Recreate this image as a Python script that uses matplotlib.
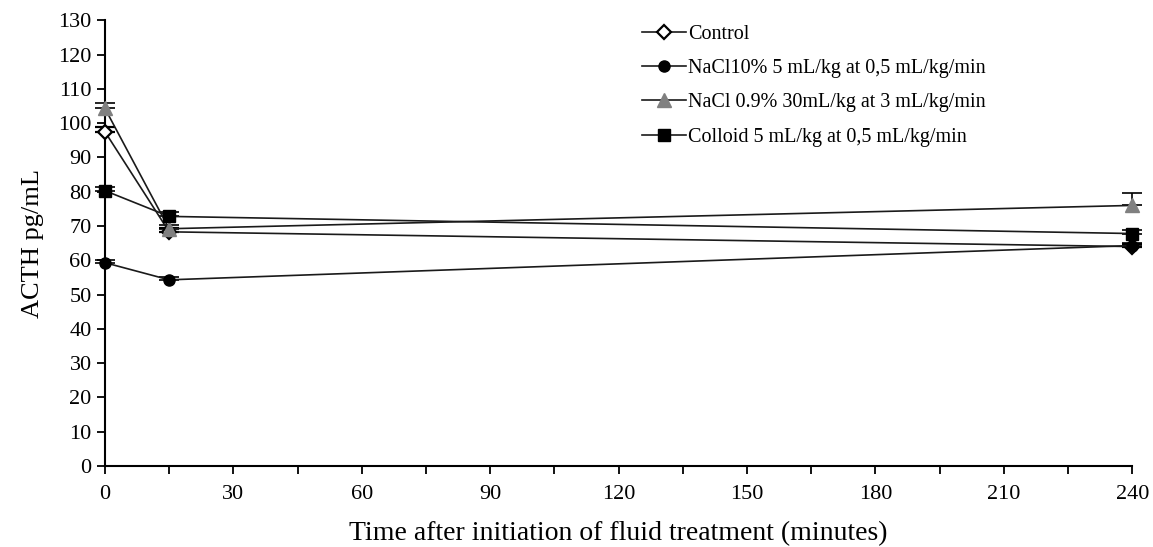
import matplotlib
matplotlib.use("Agg")
import matplotlib.pyplot as plt
from matplotlib.ticker import MultipleLocator

time = [0, 15, 240]
control = [97.5, 68.3, 64.0]
control_err = [1.5, 1.0, 0.8]
nacl10 = [59.3, 54.3, 64.3]
nacl10_err = [0.8, 0.8, 0.6]
nacl09 = [104.3, 69.2, 76.0]
nacl09_err = [1.5, 1.0, 3.5]
colloid = [80.3, 72.8, 67.8]
colloid_err = [1.0, 1.2, 1.0]

labels = ["Control", "NaCl10% 5 mL/kg at 0,5 mL/kg/min",
          "NaCl 0.9% 30mL/kg at 3 mL/kg/min", "Colloid 5 mL/kg at 0,5 mL/kg/min"]
xticks = [0, 30, 60, 90, 120, 150, 180, 210, 240]
yticks = list(range(0, 131, 10))

plt.rcParams['font.family'] = ['Liberation Serif', 'DejaVu Serif']

fig = plt.figure(figsize=(11.53, 5.47), dpi=100)
ax = fig.add_axes([0.091, 0.148, 0.891, 0.815])

lc = '#1a1a1a'
series = [
    (control, control_err, dict(marker='D', markersize=7.5, markerfacecolor='white', markeredgecolor='black', markeredgewidth=1.6)),
    (nacl10, nacl10_err, dict(marker='o', markersize=8, markerfacecolor='black', markeredgecolor='black')),
    (nacl09, nacl09_err, dict(marker='^', markersize=10, markerfacecolor='#808080', markeredgecolor='#808080')),
    (colloid, colloid_err, dict(marker='s', markersize=8.5, markerfacecolor='black', markeredgecolor='black')),
]
for (vals, err, st), lab in zip(series, labels):
    cont = ax.errorbar(time, vals, yerr=[[0]*len(err), err], color=lc, linewidth=1.2,
                       ecolor='black', elinewidth=1.2, capsize=7, capthick=1.2,
                       label=lab, zorder=3, **st)
    for art in cont.get_children():
        art.set_clip_on(False)

ax.set_xlim(0, 240)
ax.set_ylim(0, 130)
ax.set_xticks(xticks)
ax.xaxis.set_minor_locator(MultipleLocator(15))
ax.set_yticks(yticks)
for s in ['top', 'right']:
    ax.spines[s].set_visible(False)
for s in ['left', 'bottom']:
    ax.spines[s].set_linewidth(1.5)
    ax.spines[s].set_color('black')
ax.tick_params(axis='both', which='major', direction='out', length=6, width=1.3, labelsize=16, colors='black')
ax.tick_params(axis='x', which='minor', direction='out', length=6, width=1.3)
ax.tick_params(axis='x', pad=8)
ax.set_xlabel("Time after initiation of fluid treatment (minutes)", fontsize=20, labelpad=12)
ax.set_ylabel("ACTH pg/mL", fontsize=19, labelpad=10)

handles, labs = ax.get_legend_handles_labels()
handles = [h[0] for h in handles]
ax.legend(handles, labs, loc='upper left', bbox_to_anchor=(0.505, 1.03), frameon=False,
          fontsize=14.5, handlelength=2.2, handletextpad=0.1, labelspacing=0.75)

fig.savefig("out.png", dpi=100)
